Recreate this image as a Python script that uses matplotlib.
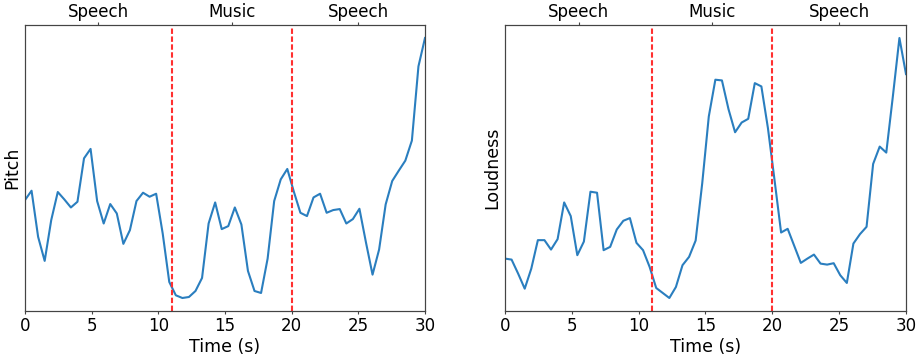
import numpy as np
import matplotlib.pyplot as plt

# frame-level features over a 30 s clip
time = np.linspace(0, 30, 62)

pitch = [110.7, 120.0, 74.0, 50.0, 90.7, 118.7, 111.3, 103.3, 109.0, 152.3,
         161.7, 109.7, 87.3, 106.7, 97.3, 67.0, 80.7, 109.7, 118.0, 114.0,
         117.0, 77.3, 29.0, 15.7, 13.0, 14.0, 20.0, 33.0, 87.3, 108.3,
         81.7, 84.7, 103.3, 86.3, 40.0, 20.0, 18.0, 52.3, 109.7, 131.3,
         141.7, 119.0, 98.0, 94.7, 113.3, 117.0, 98.0, 100.7, 101.7, 87.3,
         91.7, 102.0, 68.3, 36.3, 61.3, 106.3, 129.7, 140.0, 150.0, 170.0,
         244.0, 272.3]

loudness = [52.3, 51.3, 37.3, 22.3, 42.3, 70.7, 70.7, 61.3, 71.7, 108.3,
            94.7, 55.7, 69.3, 119.0, 118.0, 60.7, 64.0, 81.3, 90.0, 92.7,
            68.0, 60.7, 44.0, 23.0, 18.0, 13.0, 24.0, 45.7, 54.0, 70.3,
            127.3, 194.0, 230.7, 230.0, 201.3, 178.3, 188.0, 191.7, 227.3, 224.0,
            182.3, 130.7, 78.3, 82.0, 65.0, 48.0, 52.3, 56.3, 47.3, 46.3,
            47.7, 35.7, 28.0, 67.3, 76.7, 84.0, 146.7, 164.0, 158.0, 214.0,
            272.3, 236.3]

# segment boundaries and labels
boundaries = [11, 20]
segment_centers = [5.5, 15.5, 25]
segment_labels = ['Speech', 'Music', 'Speech']

fig = plt.figure(figsize=(9.17, 3.59), dpi=100)
ax1 = fig.add_axes([25 / 917, 48 / 359, 400 / 917, 286 / 359])
ax2 = fig.add_axes([505 / 917, 48 / 359, 401 / 917, 286 / 359])

for ax, values, name in [(ax1, pitch, 'Pitch'), (ax2, loudness, 'Loudness')]:
    ax.plot(time, values, color='#2a7ebf', lw=1.5)
    for b in boundaries:
        ax.axvline(b, color='#ff3030', ls=(0, (2.6, 1.2)), lw=1.5)
    ax.set_xlim(0, 30)
    ax.set_yticks([])
    ax.set_xticks([0, 5, 10, 15, 20, 25, 30])
    ax.tick_params(labelsize=12, length=2.5, pad=1.8, color='#444444')
    ax.set_xlabel('Time (s)', fontsize=12.5, labelpad=2.5)
    ax.set_ylabel(name, fontsize=12.5, labelpad=2.5)
    for s in ax.spines.values():
        s.set_color('#444444')

    top = ax.twiny()
    top.set_xlim(ax.get_xlim())
    top.set_xticks(segment_centers)
    top.set_xticklabels(segment_labels, fontsize=12)
    top.tick_params(length=2.5, pad=0.5, color='#444444')
    for s in top.spines.values():
        s.set_color('#444444')

fig.savefig('out.png', dpi=100)
